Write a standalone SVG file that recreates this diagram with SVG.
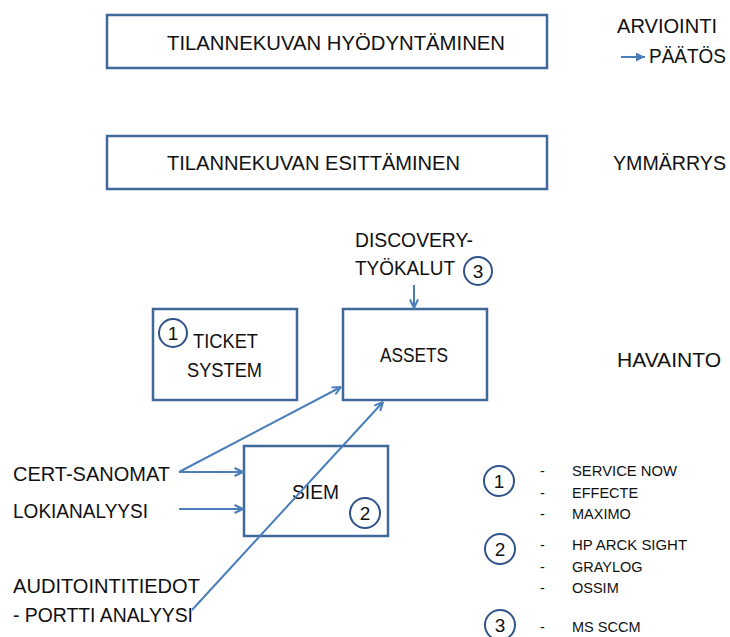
<svg xmlns="http://www.w3.org/2000/svg" width="730" height="637" viewBox="0 0 730 637">
<defs>
<style>
text{font-family:"Liberation Sans",Arial,sans-serif;fill:#111}
.box{fill:#fff;stroke:#41689a;stroke-width:2.5}
.circ{fill:#fff;stroke:#2f5288;stroke-width:2}
.con{fill:none;stroke:#4a7ebb;stroke-width:2}
.big{font-size:20.5px}
.mid{font-size:19.5px}
.sm{font-size:14.5px}
.num{font-size:19px;text-anchor:middle}
</style>
<marker id="open" viewBox="0 0 10 10" refX="9.5" refY="5" markerWidth="10" markerHeight="10" markerUnits="userSpaceOnUse" orient="auto">
<path d="M1,1 L9.5,5 L1,9" fill="none" stroke="#4a7ebb" stroke-width="2"/>
</marker>
<marker id="solid" viewBox="0 0 10 10" refX="10" refY="5" markerWidth="9" markerHeight="9" markerUnits="userSpaceOnUse" orient="auto">
<path d="M0,0 L10,5 L0,10 Z" fill="#4a7ebb"/>
</marker>
</defs>

<g id="hyodyntaminen">
<rect class="box" x="107" y="15" width="440" height="53"/>
<text class="big" x="167" y="50" textLength="338" lengthAdjust="spacingAndGlyphs">TILANNEKUVAN HYÖDYNTÄMINEN</text>
</g>
<g id="esittaminen">
<rect class="box" x="107" y="136" width="440" height="53"/>
<text class="big" x="167" y="170" textLength="293" lengthAdjust="spacingAndGlyphs">TILANNEKUVAN ESITTÄMINEN</text>
</g>

<g id="arviointi">
<text class="mid" x="617" y="33" textLength="100" lengthAdjust="spacingAndGlyphs">ARVIOINTI</text>
<text class="mid" x="649" y="63" textLength="77" lengthAdjust="spacingAndGlyphs">PÄÄTÖS</text>
</g>
<g id="ymmarrys"><text class="big" x="613" y="170" textLength="113" lengthAdjust="spacingAndGlyphs">YMMÄRRYS</text></g>
<g id="havainto"><text class="big" x="617" y="367" textLength="104" lengthAdjust="spacingAndGlyphs">HAVAINTO</text></g>

<g id="ticket">
<rect class="box" x="153" y="309" width="144" height="91"/>
<circle class="circ" cx="173" cy="333" r="14"/>
<text class="num" x="173" y="340">1</text>
<text class="mid" x="193" y="348" textLength="65" lengthAdjust="spacingAndGlyphs">TICKET</text>
<text class="mid" x="187" y="377" textLength="75" lengthAdjust="spacingAndGlyphs">SYSTEM</text>
</g>

<g id="discovery">
<text class="mid" x="355" y="247" textLength="118" lengthAdjust="spacingAndGlyphs">DISCOVERY-</text>
<text class="mid" x="355" y="275" textLength="100" lengthAdjust="spacingAndGlyphs">TYÖKALUT</text>
<circle class="circ" cx="478" cy="271" r="14"/>
<text class="num" x="478" y="278">3</text>
</g>

<g id="assets">
<rect class="box" x="343" y="309" width="144" height="91"/>
<text class="mid" x="380" y="362" textLength="68" lengthAdjust="spacingAndGlyphs">ASSETS</text>
</g>

<g id="siem">
<rect class="box" x="244" y="446" width="144" height="90"/>
<text class="mid" x="292" y="499" textLength="47" lengthAdjust="spacingAndGlyphs">SIEM</text>
<circle class="circ" cx="365" cy="513" r="15"/>
<text class="num" x="365" y="520">2</text>
</g>

<g id="inputs">
<text class="mid" x="13" y="481" textLength="157" lengthAdjust="spacingAndGlyphs">CERT-SANOMAT</text>
<text class="mid" x="13" y="518" textLength="135" lengthAdjust="spacingAndGlyphs">LOKIANALYYSI</text>
<text class="mid" x="13" y="593" textLength="187" lengthAdjust="spacingAndGlyphs">AUDITOINTITIEDOT</text>
<text class="mid" x="13" y="622" textLength="180" lengthAdjust="spacingAndGlyphs">- PORTTI ANALYYSI</text>
</g>

<g id="connectors">
<line class="con" x1="621" y1="57" x2="645" y2="57" marker-end="url(#solid)"/>
<line class="con" x1="414" y1="285" x2="414" y2="308" marker-end="url(#open)"/>
<line class="con" x1="179" y1="472" x2="243" y2="472" marker-end="url(#open)"/>
<line class="con" x1="179" y1="509" x2="243" y2="509" marker-end="url(#open)"/>
<line class="con" x1="179" y1="472" x2="341" y2="387" marker-end="url(#open)"/>
<line class="con" x1="192" y1="610" x2="383" y2="402" marker-end="url(#open)"/>
</g>

<g id="legend">
<circle class="circ" cx="499" cy="481" r="15"/>
<text class="num" x="499" y="488">1</text>
<text class="sm" x="540" y="476">-</text>
<text class="sm" x="572" y="476" textLength="105" lengthAdjust="spacingAndGlyphs">SERVICE NOW</text>
<text class="sm" x="540" y="498">-</text>
<text class="sm" x="572" y="498">EFFECTE</text>
<text class="sm" x="540" y="519">-</text>
<text class="sm" x="572" y="519">MAXIMO</text>
<circle class="circ" cx="500" cy="549" r="15"/>
<text class="num" x="500" y="556">2</text>
<text class="sm" x="540" y="550">-</text>
<text class="sm" x="572" y="550" textLength="115" lengthAdjust="spacingAndGlyphs">HP ARCK SIGHT</text>
<text class="sm" x="540" y="572">-</text>
<text class="sm" x="572" y="572">GRAYLOG</text>
<text class="sm" x="540" y="593">-</text>
<text class="sm" x="572" y="593">OSSIM</text>
<circle class="circ" cx="500" cy="625" r="15"/>
<text class="num" x="500" y="632">3</text>
<text class="sm" x="540" y="632">-</text>
<text class="sm" x="572" y="632">MS SCCM</text>
</g>
</svg>
